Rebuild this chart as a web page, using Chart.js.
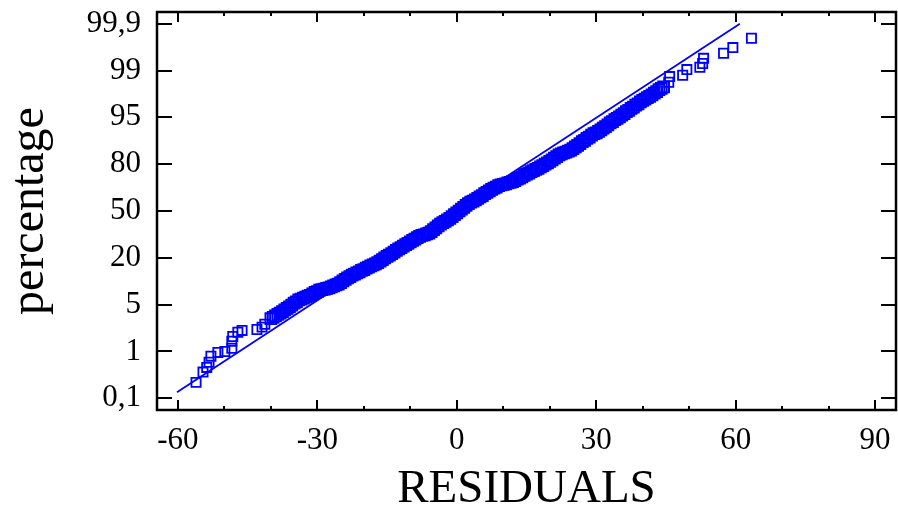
<!DOCTYPE html>
<html>
<head>
<meta charset="utf-8">
<script src="https://cdn.jsdelivr.net/npm/chart.js@4/dist/chart.umd.min.js"></script>
<style>
  html, body { margin: 0; padding: 0; background: #fff; }
  #wrap { width: 898px; height: 513px; }
</style>
</head>
<body>
<div id="wrap"><canvas id="c" width="898" height="513"></canvas></div>
<script>
// ---- data ----
// y values are positions on the probability axis (0 = 0,1 % ... 8 = 99,9 %)
const lowerTailX = [-56.1, -54.6, -53.8, -53.3, -52.9, -51.4, -49.9, -48.4, -48.4, -48.2, -47.1, -46.2, -43.0, -41.9, -41.3];
const lowerTailY = [0.34, 0.56, 0.66, 0.77, 0.90, 0.98, 1.00, 1.07, 1.22, 1.32, 1.41, 1.45, 1.47, 1.52, 1.58];

const bandX = [
  -40.0, -39.5, -39.0, -38.5, -38.0, -37.5, -37.0, -36.5, -36.0, -35.5, -35.0, -34.5, -34.0, -33.5, -33.0, -32.5,
  -32.0, -31.5, -31.0, -30.5, -30.0, -29.5, -29.0, -28.5, -28.0, -27.5, -27.0, -26.5, -26.0, -25.5, -25.0, -24.5,
  -24.0, -23.5, -23.0, -22.5, -22.0, -21.5, -21.0, -20.5, -20.0, -19.5, -19.0, -18.5, -18.0, -17.5, -17.0, -16.5,
  -16.0, -15.5, -15.0, -14.5, -14.0, -13.5, -13.0, -12.5, -12.0, -11.5, -11.0, -10.5, -10.0, -9.5, -9.0, -8.5,
  -8.0, -7.5, -7.0, -6.5, -6.0, -5.5, -5.0, -4.5, -4.0, -3.5, -3.0, -2.5, -2.0, -1.5, -1.0, -0.5,
  0.0, 0.5, 1.0, 1.5, 2.0, 2.5, 3.0, 3.5, 4.0, 4.5, 5.0, 5.5, 6.0, 6.5, 7.0, 7.5,
  8.0, 8.5, 9.0, 9.5, 10.0, 10.5, 11.0, 11.5, 12.0, 12.5, 13.0, 13.5, 14.0, 14.5, 15.0, 15.5,
  16.0, 16.5, 17.0, 17.5, 18.0, 18.5, 19.0, 19.5, 20.0, 20.5, 21.0, 21.5, 22.0, 22.5, 23.0, 23.5,
  24.0, 24.5, 25.0, 25.5, 26.0, 26.5, 27.0, 27.5, 28.0, 28.5, 29.0, 29.5, 30.0, 30.5, 31.0, 31.5,
  32.0, 32.5, 33.0, 33.5, 34.0, 34.5, 35.0, 35.5, 36.0, 36.5, 37.0, 37.5, 38.0, 38.5, 39.0, 39.5,
  40.0, 40.5, 41.0, 41.5, 42.0, 42.5, 43.0, 43.5, 44.0, 44.5
];
const bandY = [
  1.70, 1.73, 1.76, 1.79, 1.82, 1.85, 1.89, 1.92, 1.95, 1.99, 2.03, 2.06, 2.10, 2.12, 2.14, 2.16,
  2.18, 2.20, 2.23, 2.26, 2.28, 2.31, 2.32, 2.33, 2.35, 2.36, 2.38, 2.40, 2.42, 2.44, 2.47, 2.51,
  2.54, 2.57, 2.60, 2.63, 2.65, 2.68, 2.70, 2.73, 2.75, 2.78, 2.80, 2.83, 2.85, 2.87, 2.90, 2.93,
  2.96, 3.00, 3.03, 3.06, 3.09, 3.12, 3.16, 3.19, 3.22, 3.25, 3.28, 3.31, 3.34, 3.37, 3.40, 3.43,
  3.46, 3.48, 3.49, 3.51, 3.53, 3.56, 3.60, 3.64, 3.68, 3.72, 3.75, 3.78, 3.81, 3.84, 3.88, 3.92,
  3.96, 4.00, 4.04, 4.08, 4.12, 4.16, 4.19, 4.21, 4.24, 4.27, 4.30, 4.33, 4.37, 4.40, 4.43, 4.46,
  4.49, 4.51, 4.54, 4.56, 4.57, 4.58, 4.60, 4.61, 4.63, 4.65, 4.68, 4.70, 4.73, 4.76, 4.79, 4.81,
  4.84, 4.86, 4.89, 4.91, 4.94, 4.97, 5.00, 5.03, 5.06, 5.09, 5.13, 5.16, 5.20, 5.22, 5.24, 5.26,
  5.28, 5.30, 5.33, 5.37, 5.40, 5.44, 5.48, 5.51, 5.55, 5.58, 5.62, 5.65, 5.67, 5.70, 5.73, 5.77,
  5.80, 5.84, 5.88, 5.91, 5.95, 5.98, 6.01, 6.05, 6.08, 6.12, 6.15, 6.19, 6.22, 6.26, 6.29, 6.33,
  6.36, 6.39, 6.42, 6.45, 6.48, 6.52, 6.55, 6.59, 6.62, 6.65
];

const upperTailX = [45.6, 45.8, 48.6, 49.5, 52.3, 52.9, 53.1, 57.4, 59.4, 63.4];
const upperTailY = [6.75, 6.87, 6.90, 7.02, 7.07, 7.15, 7.26, 7.37, 7.49, 7.69];

const fitX = [-60.2, 60.9];
const fitY = [0.13, 8.0];
const xTickValues = [-60, -30, 0, 30, 60, 90];
const xMinorTickValues = [-50, -40, -20, -10, 10, 20, 40, 50, 70, 80];
const yTickLabels = ['0,1', '1', '5', '20', '50', '80', '95', '99', '99,9'];

// ---- chart ----
const BLUE = '#0000ff';
const SERIF = '"Liberation Serif", "Times New Roman", serif';
const toPts = (xs, ys) => xs.map((x, i) => ({ x: x, y: ys[i] }));
const tailPoints = toPts(lowerTailX, lowerTailY).concat(toPts(upperTailX, upperTailY));
const bandPoints = toPts(bandX, bandY);
const fitLine = toPts(fitX, fitY);

const framePlugin = {
  id: 'frame',
  afterDraw(chart) {
    const { ctx, chartArea: a, scales: { x, y } } = chart;
    ctx.save();
    ctx.strokeStyle = '#000';
    ctx.lineCap = 'butt';
    ctx.lineWidth = 2;
    ctx.beginPath();
    xTickValues.forEach(v => {
      const px = Math.round(x.getPixelForValue(v));
      ctx.moveTo(px, a.bottom); ctx.lineTo(px, a.bottom - 10);
      ctx.moveTo(px, a.top); ctx.lineTo(px, a.top + 10);
    });
    xMinorTickValues.forEach(v => {
      const px = Math.round(x.getPixelForValue(v));
      ctx.moveTo(px, a.bottom); ctx.lineTo(px, a.bottom - 4);
      ctx.moveTo(px, a.top); ctx.lineTo(px, a.top + 4);
    });
    yTickLabels.forEach((l, i) => {
      const py = Math.round(y.getPixelForValue(i));
      ctx.moveTo(a.left, py); ctx.lineTo(a.left + 15, py);
      ctx.moveTo(a.right, py); ctx.lineTo(a.right - 15, py);
    });
    ctx.stroke();
    ctx.lineWidth = 2.5;
    ctx.strokeRect(a.left, a.top, a.right - a.left, a.bottom - a.top);
    ctx.restore();
  }
};

new Chart(document.getElementById('c'), {
  type: 'scatter',
  data: {
    datasets: [
      {
        label: 'fit',
        data: fitLine,
        showLine: true,
        borderColor: BLUE,
        borderWidth: 1.8,
        pointRadius: 0,
        fill: false
      },
      {
        label: 'residuals (band)',
        data: bandPoints,
        pointStyle: 'rect',
        pointRadius: 7.6,
        pointBorderWidth: 2,
        borderColor: BLUE,
        backgroundColor: 'rgba(0,0,0,0)',
        pointBackgroundColor: 'rgba(0,0,0,0)'
      },
      {
        label: 'residuals (tails)',
        data: tailPoints,
        pointStyle: 'rect',
        pointRadius: 6.5,
        pointBorderWidth: 1.8,
        borderColor: BLUE,
        backgroundColor: 'rgba(0,0,0,0)',
        pointBackgroundColor: 'rgba(0,0,0,0)'
      }
    ]
  },
  plugins: [framePlugin],
  options: {
    responsive: false,
    animation: false,
    devicePixelRatio: 1,
    layout: { autoPadding: false, padding: { top: 12, right: 2, left: 0, bottom: 0 } },
    plugins: { legend: { display: false }, tooltip: { enabled: false } },
    scales: {
      x: {
        type: 'linear',
        min: -64.5,
        max: 94.5,
        afterFit: s => { s.height = 103; s.paddingLeft = 0; s.paddingRight = 0; },
        afterBuildTicks: s => { s.ticks = xTickValues.map(v => ({ value: v })); },
        grid: { display: false, drawTicks: false },
        border: { display: false },
        ticks: {
          padding: 12,
          color: '#000',
          font: { family: SERIF, size: 31 },
          maxRotation: 0,
          callback: v => String(v)
        },
        title: {
          display: true,
          text: 'RESIDUALS',
          color: '#000',
          font: { family: SERIF, size: 47, lineHeight: 1 },
          padding: { top: 0, bottom: 0 }
        }
      },
      y: {
        type: 'linear',
        min: -0.25,
        max: 8.25,
        afterFit: s => { s.width = 157; s.paddingTop = 0; s.paddingBottom = 0; },
        afterBuildTicks: s => { s.ticks = yTickLabels.map((l, i) => ({ value: i })); },
        grid: { display: false, drawTicks: false },
        border: { display: false },
        ticks: {
          padding: 16,
          color: '#000',
          font: { family: SERIF, size: 31 },
          callback: (v) => yTickLabels[Math.round(v)]
        },
        title: {
          display: true,
          text: 'percentage',
          color: '#000',
          font: { family: SERIF, size: 48, lineHeight: 1 },
          padding: { top: 6, bottom: 0 }
        }
      }
    }
  }
});
</script>
</body>
</html>
